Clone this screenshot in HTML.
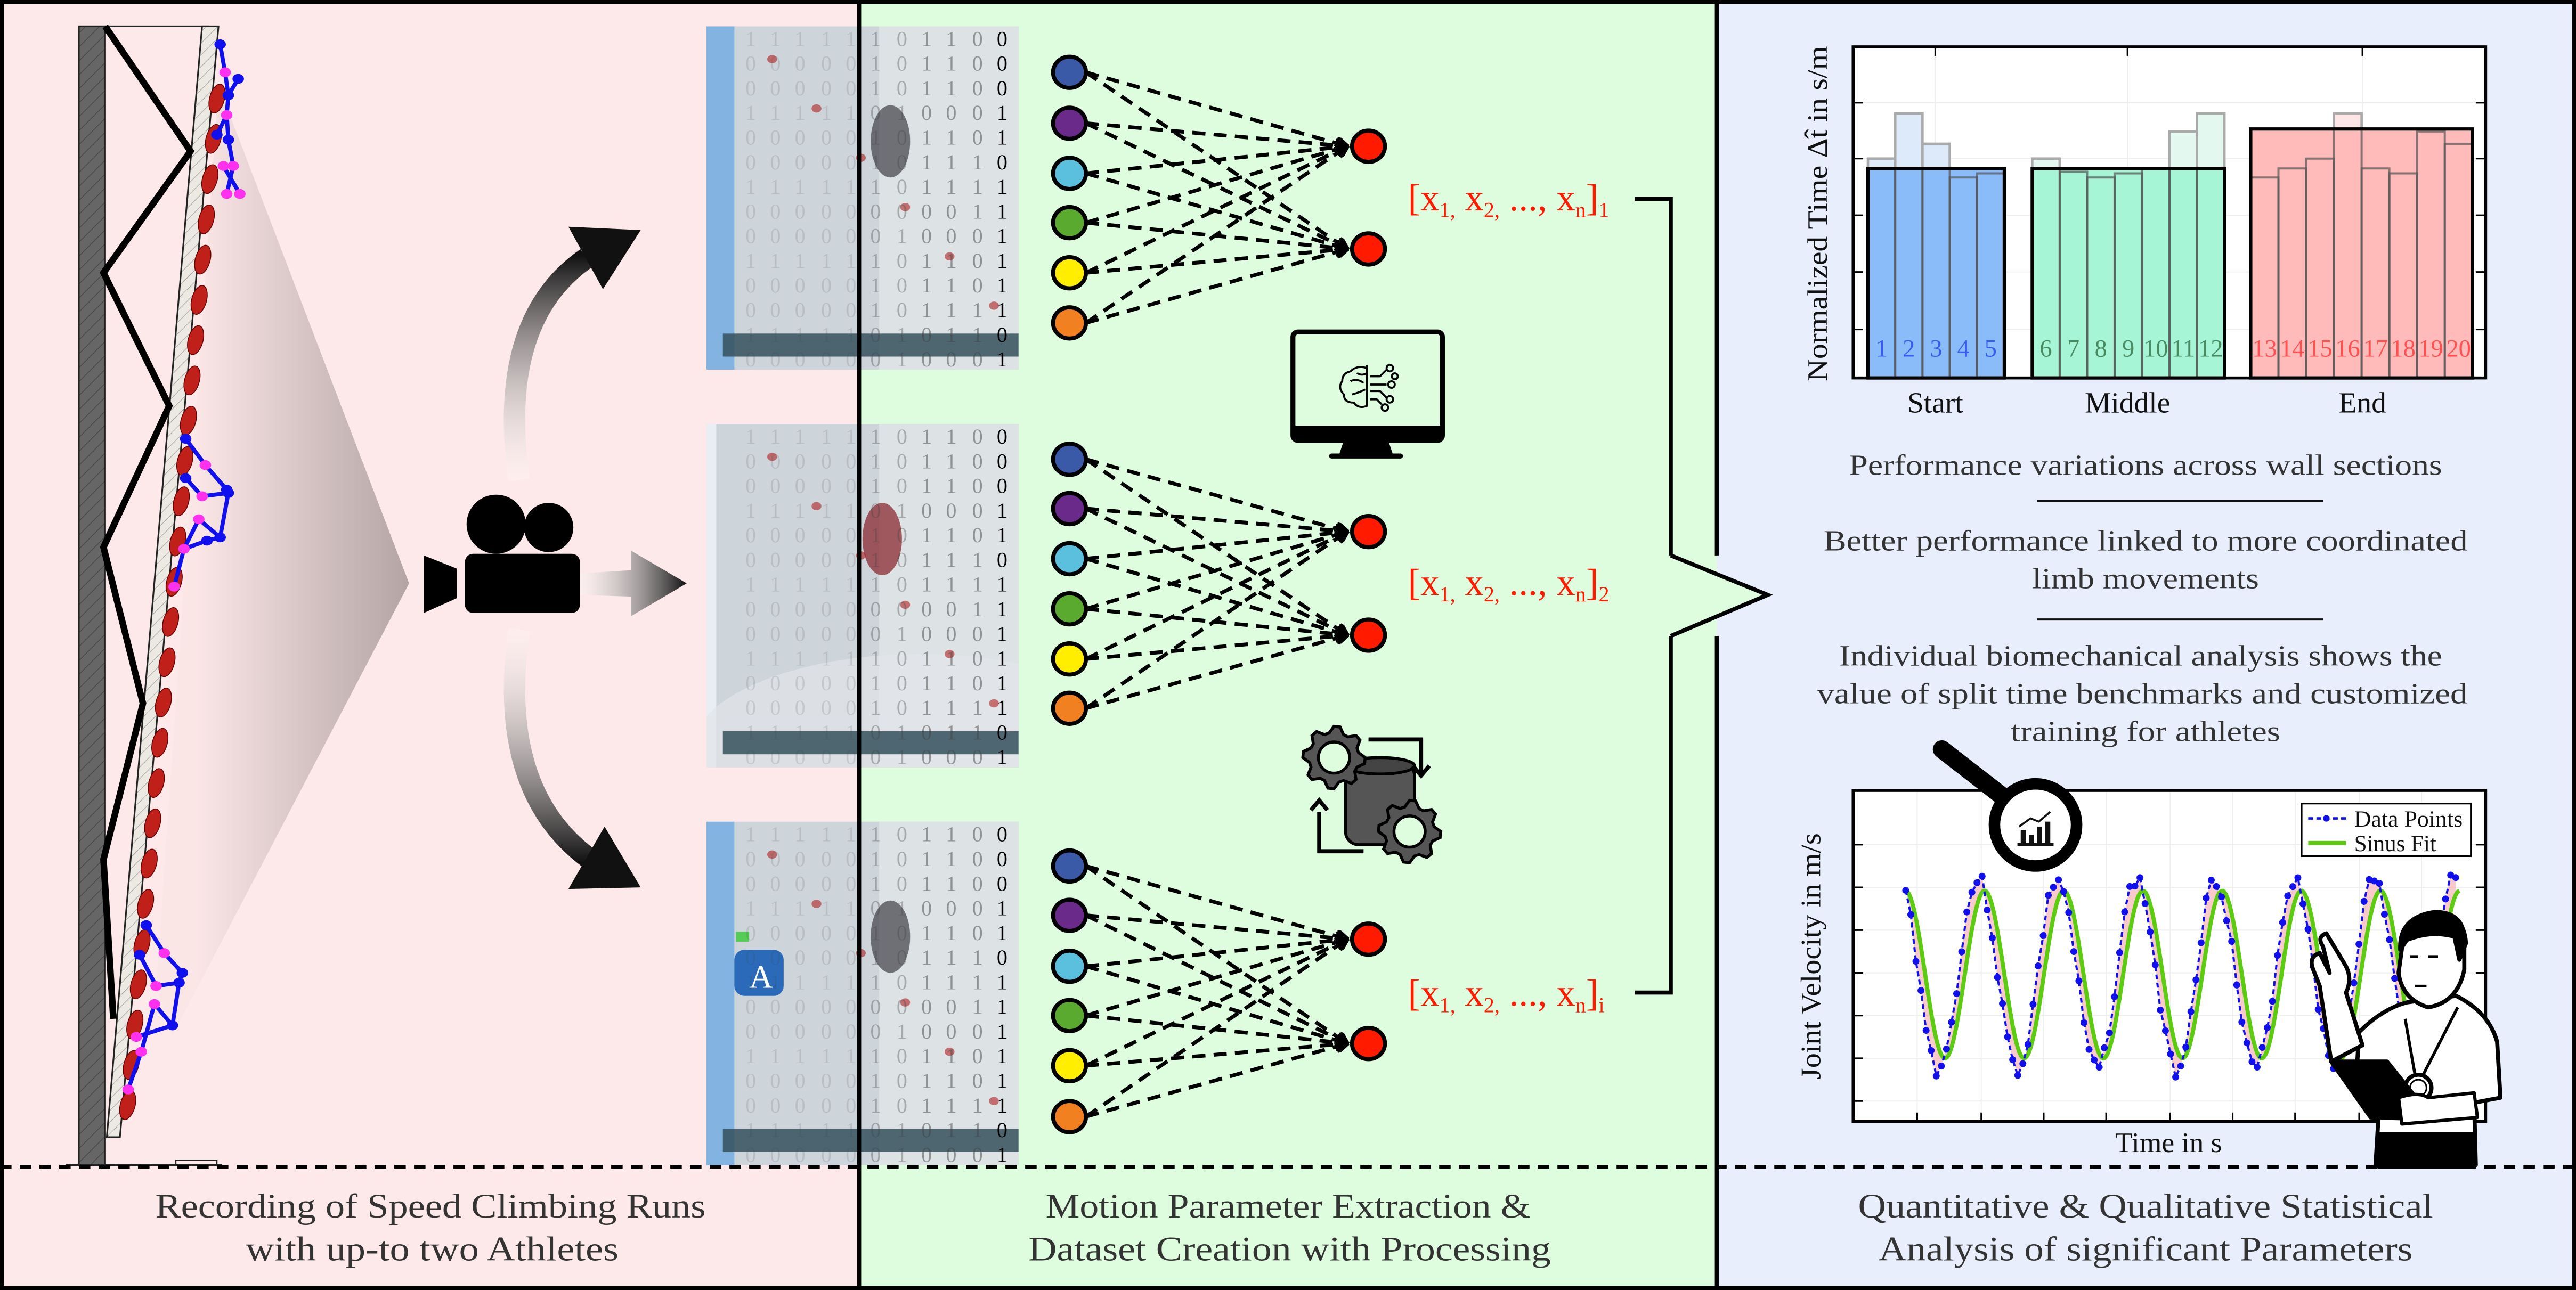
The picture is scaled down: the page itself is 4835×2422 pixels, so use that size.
<!DOCTYPE html>
<html><head><meta charset="utf-8"><style>
html,body{margin:0;padding:0;background:#fff}
svg{display:block}
text{font-family:"Liberation Serif",serif}
</style></head><body>
<svg id="s" width="4835" height="2422" viewBox="0 0 1568 785" preserveAspectRatio="none" xmlns="http://www.w3.org/2000/svg">
<defs>
<linearGradient id="cone" x1="120" y1="0" x2="250" y2="0" gradientUnits="userSpaceOnUse"><stop offset="0" stop-color="#fbe6e6"/><stop offset="1" stop-color="#b3a4a4"/></linearGradient>
<linearGradient id="gup" x1="0" y1="290" x2="0" y2="155" gradientUnits="userSpaceOnUse"><stop offset="0" stop-color="#fff" stop-opacity="0.2"/><stop offset="1" stop-color="#111"/></linearGradient>
<linearGradient id="gdn" x1="0" y1="385" x2="0" y2="525" gradientUnits="userSpaceOnUse"><stop offset="0" stop-color="#fff" stop-opacity="0.2"/><stop offset="1" stop-color="#111"/></linearGradient>
<linearGradient id="grt" x1="352" y1="0" x2="418" y2="0" gradientUnits="userSpaceOnUse"><stop offset="0" stop-color="#fff" stop-opacity="0.3"/><stop offset="1" stop-color="#111"/></linearGradient>
<pattern id="hatch" width="6" height="6" patternUnits="userSpaceOnUse" patternTransform="rotate(45)"><rect width="6" height="6" fill="#666"/><line x1="0" y1="0" x2="0" y2="6" stroke="#444" stroke-width="0.8"/></pattern>
<pattern id="hatch2" width="5" height="5" patternUnits="userSpaceOnUse" patternTransform="rotate(45)"><rect width="5" height="5" fill="#ece8e2"/><line x1="0" y1="0" x2="0" y2="5" stroke="#999" stroke-width="0.6"/></pattern>
<marker id="ah" markerWidth="8" markerHeight="8" refX="7" refY="4" orient="auto" markerUnits="userSpaceOnUse"><path d="M0,0 L8,4 L0,8" fill="none" stroke="#000" stroke-width="2"/></marker>
<clipPath id="c1"><rect x="430" y="16" width="190" height="209"/></clipPath>
<clipPath id="c2"><rect x="430" y="258" width="190" height="209"/></clipPath>
<clipPath id="c3"><rect x="430" y="500" width="190" height="209"/></clipPath>
</defs>

<rect x="0" y="0" width="523" height="785" fill="#fde9e9"/>
<rect x="523" y="0" width="522" height="785" fill="#defdde"/>
<rect x="1045" y="0" width="523" height="785" fill="#e8eefb"/>

<g id="wall">
<polygon points="133,52 249,355 105,630 95,600" fill="url(#cone)"/>
<rect x="48" y="16" width="16" height="693" fill="url(#hatch)" stroke="#222" stroke-width="1"/>
<polygon points="123,16 133,16 73,692 65,692" fill="url(#hatch2)" stroke="#222" stroke-width="1"/>
<line x1="64" y1="16" x2="127" y2="16" stroke="#222" stroke-width="1"/>
<line x1="40" y1="709" x2="135" y2="709" stroke="#222" stroke-width="1.5"/>
<rect x="107" y="706" width="25" height="3" fill="none" stroke="#222" stroke-width="0.8"/>
<polyline points="64,16 116,92 63,166 103,247 63,333 87,428 63,523 69,620" fill="none" stroke="#000" stroke-width="4"/>
<g id="holds" fill="#c0201a" stroke="#600" stroke-width="0.5"></g>
<g id="figs"></g>
</g>

<path d="M316,292 Q302,195 357,157" fill="none" stroke="url(#gup)" stroke-width="13"/>
<polygon points="346,138 390,140 367,176" fill="#111"/>
<path d="M316,383 Q302,480 358,522" fill="none" stroke="url(#gdn)" stroke-width="13"/>
<polygon points="346,541 390,540 368,503" fill="#111"/>
<polygon points="352,349 384,347 384,335 418,355 384,375 384,363 352,362" fill="url(#grt)"/>
<circle cx="302" cy="319" r="18" fill="#000"/>
<circle cx="334" cy="321" r="15" fill="#000"/>
<rect x="283" y="337" width="70" height="36" rx="5" fill="#000"/>
<polygon points="258,338 278,346 278,364 258,373" fill="#000"/>

<g id="thumbs"></g>

<g id="net"></g>
<g fill="#ff1a00" font-size="23">
<text x="857" y="128">[x<tspan font-size="13" dy="4">1,</tspan><tspan dy="-4"> x</tspan><tspan font-size="13" dy="4">2,</tspan><tspan dy="-4"> ..., x</tspan><tspan font-size="13" dy="4">n</tspan><tspan dy="-4">]</tspan><tspan font-size="13" dy="4">1</tspan></text>
<text x="857" y="362">[x<tspan font-size="13" dy="4">1,</tspan><tspan dy="-4"> x</tspan><tspan font-size="13" dy="4">2,</tspan><tspan dy="-4"> ..., x</tspan><tspan font-size="13" dy="4">n</tspan><tspan dy="-4">]</tspan><tspan font-size="13" dy="4">2</tspan></text>
<text x="857" y="612">[x<tspan font-size="13" dy="4">1,</tspan><tspan dy="-4"> x</tspan><tspan font-size="13" dy="4">2,</tspan><tspan dy="-4"> ..., x</tspan><tspan font-size="13" dy="4">n</tspan><tspan dy="-4">]</tspan><tspan font-size="13" dy="4">i</tspan></text>
</g>
<g>
<rect x="787" y="202" width="91" height="66" rx="3" fill="none" stroke="#000" stroke-width="3"/>
<rect x="787" y="259" width="91" height="9" fill="#000"/>
<polygon points="818,268 845,268 848,277 815,277" fill="#000"/>
<rect x="809" y="276" width="45" height="3" rx="1.5" fill="#000"/>
<g fill="none" stroke="#000" stroke-width="1.2">
<path d="M832,224 q-6,-2 -10,2 q-5,1 -5,6 q-3,4 1,8 q0,5 6,5 q3,4 8,2 z"/>
<path d="M822,232 q4,-2 8,1 M823,240 q4,-1 8,-3 M826,227 q3,2 6,0"/>
<line x1="832" y1="222" x2="832" y2="247" stroke-dasharray="3 2"/>
<path d="M834,229 h6 l4,-4 M834,234 h10 M834,238 h6 l4,4 M834,243 h4 l3,3"/>
<circle cx="846" cy="224" r="2"/><circle cx="847" cy="234" r="2"/><circle cx="846" cy="243" r="2"/><circle cx="843" cy="248" r="2"/><circle cx="849" cy="229" r="1.8"/>
</g>
</g>
<g id="gears"></g>

<polyline points="995,121 1017,121 1017,338" fill="none" stroke="#000" stroke-width="2.5"/>
<polyline points="995,604 1017,604 1017,387" fill="none" stroke="#000" stroke-width="2.5"/>
<polygon points="1017,338 1076,362 1017,387" fill="#defdde"/>
<polyline points="1017,338 1076,362 1017,387" fill="none" stroke="#000" stroke-width="2.5"/>

<g id="bars"></g>
<g font-size="18" fill="#111" text-anchor="middle">
<text x="1178" y="251">Start</text><text x="1295" y="251">Middle</text><text x="1438" y="251">End</text>
</g>
<text transform="translate(1112,130) rotate(-90)" font-size="17" fill="#111" text-anchor="middle" textLength="204" lengthAdjust="spacingAndGlyphs">Normalized Time Δt̂ in s/m</text>

<g font-size="18" fill="#333" text-anchor="middle">
<text x="1306" y="289" textLength="361" lengthAdjust="spacingAndGlyphs">Performance variations across wall sections</text>
<text x="1306" y="335" textLength="392" lengthAdjust="spacingAndGlyphs">Better performance linked to more coordinated</text>
<text x="1306" y="358" textLength="138" lengthAdjust="spacingAndGlyphs">limb movements</text>
<text x="1303" y="405" textLength="367" lengthAdjust="spacingAndGlyphs">Individual biomechanical analysis shows the</text>
<text x="1304" y="428" textLength="396" lengthAdjust="spacingAndGlyphs">value of split time benchmarks and customized</text>
<text x="1306" y="451" textLength="164" lengthAdjust="spacingAndGlyphs">training for athletes</text>
</g>
<line x1="1240" y1="305" x2="1414" y2="305" stroke="#111" stroke-width="1.3"/>
<line x1="1240" y1="377" x2="1414" y2="377" stroke="#111" stroke-width="1.3"/>

<g id="lc"></g>
<text x="1320" y="701" font-size="17" fill="#111" text-anchor="middle" textLength="65" lengthAdjust="spacingAndGlyphs">Time in s</text>
<text transform="translate(1108,582) rotate(-90)" font-size="17" fill="#111" text-anchor="middle" textLength="150" lengthAdjust="spacingAndGlyphs">Joint Velocity in m/s</text>
<line x1="1182" y1="456" x2="1222" y2="487" stroke="#000" stroke-width="11" stroke-linecap="round"/>
<circle cx="1239" cy="502" r="25" fill="#fff" stroke="#000" stroke-width="7"/>
<g fill="#111"><rect x="1230" y="505" width="3" height="9"/><rect x="1235" y="508" width="3" height="6"/><rect x="1240" y="503" width="3" height="11"/><rect x="1245" y="500" width="3" height="14"/><rect x="1228" y="513" width="22" height="2"/></g>
<polyline points="1229,503 1236,498 1241,500 1248,494" fill="none" stroke="#111" stroke-width="1.2"/>
<g id="coach" stroke="#000" stroke-width="2.5" stroke-linejoin="round">
<path d="M1446,709 L1448,676 L1434,660 L1436,628 Q1450,614 1465,610 L1495,606 Q1515,616 1520,634 L1522,668 L1506,671 L1507,709 Z" fill="#fff"/>
<rect x="1448" y="690" width="58" height="20" fill="#000"/>
<path d="M1419,646 L1412,600 L1408,590 Q1405,582 1412,580 L1418,592 L1414,576 Q1410,570 1416,568 L1428,588 Q1432,596 1428,604 L1438,636 Z" fill="#fff"/>
<path d="M1463,570 Q1466,556 1484,555 Q1500,556 1500,572 L1500,590 Q1496,610 1478,613 Q1462,608 1460,592 Z" fill="#fff"/>
<path d="M1461,578 Q1460,558 1482,555 Q1500,556 1501,574 L1497,584 L1494,570 Q1480,566 1465,572 Z" fill="#000"/>
<path d="M1467,582 h5 M1478,582 h6 M1470,600 h7" stroke-width="1.5"/>
<path d="M1464,620 L1470,654 M1496,613 L1475,654" fill="none" stroke-width="1.8"/>
<circle cx="1472" cy="662" r="8" fill="#fff"/>
<circle cx="1472" cy="662" r="5" fill="none" stroke-width="1"/>
<path d="M1419,646 L1453,646 L1481,681 L1443,680 Z" fill="#000"/>
<path d="M1460,668 Q1472,664 1478,668 L1506,665 L1508,680 L1462,684 Z" fill="#fff" stroke-width="2"/>
</g>

<line x1="0" y1="710" x2="1568" y2="710" stroke="#000" stroke-width="2.2" stroke-dasharray="7 5"/>

<g font-size="21" fill="#333" text-anchor="middle">
<text x="262" y="741" textLength="335" lengthAdjust="spacingAndGlyphs">Recording of Speed Climbing Runs</text>
<text x="263" y="767" textLength="227" lengthAdjust="spacingAndGlyphs">with up-to two Athletes</text>
<text x="784" y="741" textLength="295" lengthAdjust="spacingAndGlyphs">Motion Parameter Extraction &amp;</text>
<text x="785" y="767" textLength="318" lengthAdjust="spacingAndGlyphs">Dataset Creation with Processing</text>
<text x="1306" y="741" textLength="350" lengthAdjust="spacingAndGlyphs">Quantitative &amp; Qualitative Statistical</text>
<text x="1306" y="767" textLength="325" lengthAdjust="spacingAndGlyphs">Analysis of significant Parameters</text>
</g>

<rect x="1.2" y="1.2" width="1565.6" height="782.6" fill="none" stroke="#000" stroke-width="2.4"/>
<line x1="523" y1="0" x2="523" y2="785" stroke="#000" stroke-width="2.4"/>
<line x1="1045" y1="0" x2="1045" y2="338" stroke="#000" stroke-width="2.4"/>
<line x1="1045" y1="387" x2="1045" y2="785" stroke="#000" stroke-width="2.4"/>
</svg>
<script>
var NS="http://www.w3.org/2000/svg";
function el(p,t,a,txt){var e=document.createElementNS(NS,t);for(var k in a)e.setAttribute(k,a[k]);if(txt!==undefined)e.textContent=txt;document.getElementById(p).appendChild(e);return e;}
for(var i=0;i<26;i++){var y=60+i*24.5;var x=133-(y-16)*(60/676)+3;el("holds","ellipse",{cx:x,cy:y,rx:4.5,ry:9,transform:"rotate(15 "+x+" "+y+")"});}
function fig(pts,lines,joints){for(var i=0;i<lines.length;i++){var a=pts[lines[i][0]],b=pts[lines[i][1]];el("figs","line",{x1:a[0],y1:a[1],x2:b[0],y2:b[1],stroke:"#1010ee","stroke-width":2.5});}
for(var i=0;i<pts.length;i++){el("figs","ellipse",{cx:pts[i][0],cy:pts[i][1],rx:3.5,ry:3,fill:joints.indexOf(i)>=0?"#ff30ee":"#1010ee"});}}
fig([[134,27],[137,44],[145,48],[139,58],[138,70],[132,82],[139,85],[142,101],[138,118],[146,118],[136,101]],[[0,1],[1,3],[2,3],[3,4],[4,5],[4,6],[6,7],[7,8],[7,10],[10,9]],[1,4,7,8,9,10]);
fig([[113,267],[125,283],[138,298],[113,291],[123,302],[139,300],[134,327],[121,316],[112,334],[106,357],[126,329]],[[0,1],[1,2],[3,4],[4,5],[2,5],[5,6],[6,7],[7,8],[8,9],[6,10],[10,8]],[1,4,7,8,9]);
fig([[89,563],[100,580],[111,592],[85,581],[95,600],[109,598],[105,624],[94,611],[86,640],[78,663],[83,631]],[[0,1],[1,2],[3,4],[4,5],[2,5],[5,6],[6,7],[7,8],[8,9],[6,10]],[1,4,7,8,9,10]);
var rows=["101100","101100","101100","010001","101101","101110","101111","000011","010001","101101","101101","101111","010110","010001"];
var cols=[457,472,487,503,518,533,549,564,579,595,610];
var ys=[16,258,500];
for(var t=0;t<3;t++){var y0=ys[t];var g=el("thumbs","g",{"clip-path":"url(#c"+(t+1)+")"});
 function ad(tag,a,txt){var e=document.createElementNS(NS,tag);for(var k in a)e.setAttribute(k,a[k]);if(txt!==undefined)e.textContent=txt;g.appendChild(e);return e;}
 ad("rect",{x:430,y:y0,width:190,height:209,fill:"#cdd4da"});
 ad("rect",{x:535,y:y0,width:85,height:209,fill:"#dde2e4"});
 if(t!=1)ad("rect",{x:430,y:y0,width:17,height:209,fill:"#76aee2",opacity:0.85});
 else{ad("rect",{x:430,y:y0,width:6,height:209,fill:"#e8eef4"});ad("ellipse",{cx:560,cy:y0+200,rx:140,ry:60,fill:"#e2e6ea",opacity:0.7});}
 if(t==2){ad("rect",{x:447,y:y0+78,width:30,height:28,rx:6,fill:"#2a6ab8"});ad("text",{x:456,y:y0+101,"font-size":"20",fill:"#fff","font-family":"Liberation Sans"},"A");ad("rect",{x:448,y:y0+67,width:8,height:6,fill:"#5c5"});}
 ad("ellipse",{cx:t==1?537:542,cy:y0+70,rx:12,ry:22,fill:t==1?"#8a2a30":"#4a4a50",opacity:0.75});
 ad("rect",{x:440,y:y0+187,width:180,height:14,fill:"#34505c",opacity:0.85});
 for(var k=0;k<6;k++)ad("ellipse",{cx:470+k*27,cy:y0+20+k*30,rx:3,ry:2.5,fill:"#b02020",opacity:0.6});
 for(var r=0;r<14;r++){for(var c=0;c<cols.length;c++){var d=c>=5?rows[r][c-5]:((r*7+c*3)%3==0?"1":"0");var op=c==10?1:(c>=7?0.5:(c>=5?0.35:0.15));ad("text",{x:cols[c],y:y0+12+r*15,"font-size":"13",fill:c==10?"#000":"#444",opacity:op,"text-anchor":"middle"},d);}}
}
var colors=["#3a5aa8","#6a2a8a","#5bc0de","#5aaa30","#ffee00","#f08020"];
var groups=[{i:[44,75,105.5,135.5,166,196.5],o:[89,151.5]},{i:[279.5,309.5,340,370.5,401,431],o:[323.5,386.5]},{i:[527,557,588,618,648.5,679.5],o:[571.5,635]}];
groups.forEach(function(G){G.i.forEach(function(yi){G.o.forEach(function(yo){el("net","line",{x1:661,y1:yi,x2:820,y2:yo,stroke:"#000","stroke-width":2.3,"stroke-dasharray":"8 5","marker-end":"url(#ah)"});});});
 G.i.forEach(function(yi,k){el("net","ellipse",{cx:651,cy:yi,rx:10,ry:9.5,fill:colors[k],stroke:"#000","stroke-width":2.5});});
 G.o.forEach(function(yo){el("net","ellipse",{cx:833,cy:yo,rx:10,ry:9.5,fill:"#ff1a00",stroke:"#000","stroke-width":2.5});});});
function gear(cx,cy,R,r){var d="";var n=8;for(var k=0;k<n*4;k++){var a=k/(n*4)*2*Math.PI;var rad=(k%4<2)?R:R*0.8;d+=(k?"L":"M")+(cx+rad*Math.cos(a)).toFixed(1)+","+(cy+rad*Math.sin(a)).toFixed(1);}d+="Z";
 el("gears","path",{d:d,fill:"#555",stroke:"#000","stroke-width":1.8});el("gears","circle",{cx:cx,cy:cy,r:r,fill:"#defdde",stroke:"#000","stroke-width":1.8});}
el("gears","rect",{x:819,y:464,width:42,height:50,rx:8,fill:"#555",stroke:"#000","stroke-width":1.8});
el("gears","ellipse",{cx:840,cy:466,rx:21,ry:5,fill:"#444",stroke:"#000","stroke-width":1.8});
el("gears","polyline",{points:"833,450 865,450 865,472",fill:"none",stroke:"#000","stroke-width":2.5});
el("gears","polyline",{points:"860,466 865,472 870,466",fill:"none",stroke:"#000","stroke-width":2.5});
el("gears","polyline",{points:"803,494 803,518 830,518",fill:"none",stroke:"#000","stroke-width":2.5});
el("gears","polyline",{points:"798,493 803,487 808,493",fill:"none",stroke:"#000","stroke-width":2.5});
gear(812,461,19,9.5);gear(858,506,19,9.5);
var gy=[62.5,96.5,131,165.5,200.5];
el("bars","rect",{x:1128,y:28.5,width:385,height:201.5,fill:"#fff"});
gy.forEach(function(y){el("bars","line",{x1:1128,y1:y,x2:1513,y2:y,stroke:"#eee","stroke-width":0.6});el("bars","line",{x1:1128,y1:y,x2:1134,y2:y,stroke:"#000","stroke-width":1});el("bars","line",{x1:1507,y1:y,x2:1513,y2:y,stroke:"#000","stroke-width":1});});
[1178,1295,1438].forEach(function(x){el("bars","line",{x1:x,y1:28.5,x2:x,y2:230,stroke:"#eee","stroke-width":0.6});el("bars","line",{x1:x,y1:28.5,x2:x,y2:34,stroke:"#000"});});
var grp=[{x:1137,w:83,n:5,top:102.5,fill:"#8bbcfa",ghost:"#dceaf9",tc:"#3a5af0",tops:[96.5,69,87.5,108,105.5],s:1},
{x:1237,w:117,n:7,top:102.5,fill:"#a6f5d6",ghost:"#e3f8ef",tc:"#4a8a60",tops:[96.5,104.5,108,105.5,102.5,80,69],s:6},
{x:1370,w:135,n:8,top:78.5,fill:"#ffbaba",ghost:"#ffe6e6",tc:"#ff5050",tops:[108,102.5,96.5,69,102.5,105.5,80,87.5],s:13}];
grp.forEach(function(G){var bw=G.w/G.n;
 G.tops.forEach(function(t,k){if(t<G.top)el("bars","rect",{x:G.x+k*bw,y:t,width:bw,height:G.top-t,fill:G.ghost,stroke:"#aaa","stroke-width":1.5});});
 el("bars","rect",{x:G.x,y:G.top,width:G.w,height:230-G.top,fill:G.fill});
 G.tops.forEach(function(t,k){el("bars","rect",{x:G.x+k*bw,y:Math.max(t,G.top),width:bw,height:230-Math.max(t,G.top),fill:"none",stroke:"#555","stroke-width":1.3,"stroke-opacity":0.7});
  el("bars","text",{x:G.x+k*bw+bw/2,y:217,"font-size":"15",fill:G.tc,"text-anchor":"middle"},String(G.s+k));});
 el("bars","rect",{x:G.x,y:G.top,width:G.w,height:230-G.top,fill:"none",stroke:"#000","stroke-width":2});});
el("bars","rect",{x:1128,y:28.5,width:385,height:201.5,fill:"none",stroke:"#000","stroke-width":1.8});
el("lc","rect",{x:1128,y:481,width:385,height:201.5,fill:"#fff"});
var ly=[514,540,566,592,618,644,670],lx=[1167,1206,1244,1282,1321,1359,1397,1436,1474];
ly.forEach(function(y){el("lc","line",{x1:1128,y1:y,x2:1513,y2:y,stroke:"#eee","stroke-width":0.6});el("lc","line",{x1:1128,y1:y,x2:1134,y2:y,stroke:"#000"});el("lc","line",{x1:1507,y1:y,x2:1513,y2:y,stroke:"#000"});});
lx.forEach(function(x){el("lc","line",{x1:x,y1:481,x2:x,y2:682.5,stroke:"#eee","stroke-width":0.6});el("lc","line",{x1:x,y1:677,x2:x,y2:682.5,stroke:"#000"});});
var P=48.2;function sf(x){return 593-51*Math.cos(2*Math.PI*(x-1208)/P);}
var seed=3;function rnd(){seed=(seed*9301+49297)%233280;return seed/233280-0.5;}
var dpts=[],spts=[];for(var x=1160;x<=1497;x+=3.1){var yd=593-58*Math.cos(2*Math.PI*(x-1204)/P)+rnd()*10;dpts.push([x,yd]);spts.push([x,sf(x)]);}
var fillp=dpts.map(function(p){return p[0].toFixed(1)+","+p[1].toFixed(1);}).concat(spts.slice().reverse().map(function(p){return p[0].toFixed(1)+","+p[1].toFixed(1);})).join(" ");
el("lc","polygon",{points:fillp,fill:"#f6b4b4",opacity:0.7});
var sd="";for(var x=1160;x<=1497;x+=1){sd+=(x==1160?"M":"L")+x+","+sf(x).toFixed(1);}
el("lc","path",{d:sd,fill:"none",stroke:"#5ccc10","stroke-width":2.5});
el("lc","polyline",{points:dpts.map(function(p){return p[0].toFixed(1)+","+p[1].toFixed(1);}).join(" "),fill:"none",stroke:"#1010ee","stroke-width":1.3,"stroke-dasharray":"3 2"});
dpts.forEach(function(p){el("lc","circle",{cx:p[0],cy:p[1],r:2.1,fill:"#1010ee"});});
el("lc","rect",{x:1128,y:481,width:385,height:201.5,fill:"none",stroke:"#000","stroke-width":1.8});
el("lc","rect",{x:1401,y:489,width:103,height:32,fill:"#fff",stroke:"#000","stroke-width":1});
el("lc","line",{x1:1405,y1:498,x2:1428,y2:498,stroke:"#1010ee","stroke-width":1.5,"stroke-dasharray":"3 2"});
el("lc","circle",{cx:1416,cy:498,r:2,fill:"#1010ee"});
el("lc","line",{x1:1405,y1:513,x2:1428,y2:513,stroke:"#5ccc10","stroke-width":2.5});
el("lc","text",{x:1433,y:503,"font-size":"14",fill:"#111",textLength:"66",lengthAdjust:"spacingAndGlyphs"},"Data Points");
el("lc","text",{x:1433,y:518,"font-size":"14",fill:"#111",textLength:"50",lengthAdjust:"spacingAndGlyphs"},"Sinus Fit");
</script>
</body></html>
